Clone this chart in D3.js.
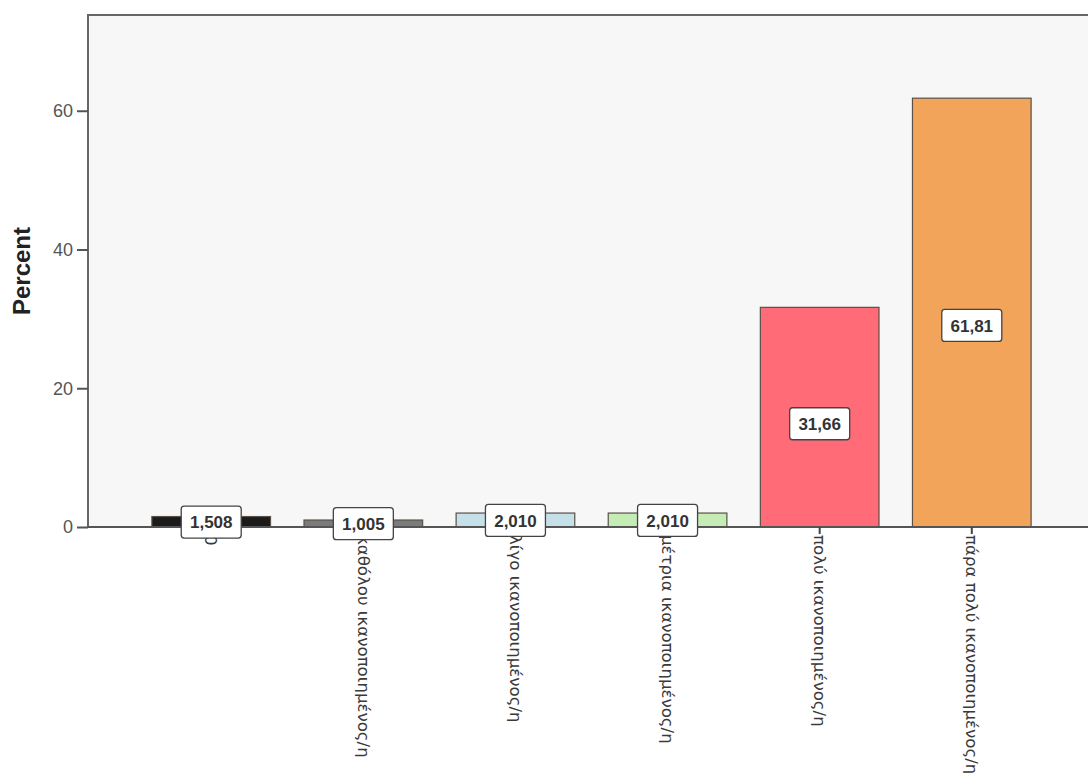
<!DOCTYPE html>
<html>
<head>
<meta charset="utf-8">
<script src="https://cdn.jsdelivr.net/npm/d3@7"></script>
<style>
  html, body { margin: 0; padding: 0; background: #ffffff; }
  svg { display: block; }
</style>
</head>
<body>
<svg id="chart" width="1088" height="782"></svg>
<script>
// Satisfaction levels (percent of respondents)
const categories = [
  "0",
  "καθόλου ικανοποιημένος/η",
  "λίγο ικανοποιημένος/η",
  "μέτρια ικανοποιημένος/η",
  "πολύ ικανοποιημένος/η",
  "πάρα πολύ ικανοποιημένος/η"
];
const percents = [1.508, 1.005, 2.010, 2.010, 31.66, 61.81];
const valueLabels = ["1,508", "1,005", "2,010", "2,010", "31,66", "61,81"];
const barColors = ["#1b1b1b", "#7b7b7b", "#c6e0ea", "#c6ecb6", "#ff6b77", "#f2a45b"];
const yTicks = [0, 20, 40, 60];

const svg = d3.select("#chart");
const W = 1088, H = 782;
const plot = { left: 88, top: 15, right: 1095, bottom: 527 };

const x = d3.scaleBand()
  .domain(categories)
  .range([plot.left, plot.right])
  .paddingInner(0.22)
  .paddingOuter(0.42);

const y = d3.scaleLinear()
  .domain([0, 73.8])
  .range([plot.bottom, plot.top]);

// plot background
svg.append("rect")
  .attr("x", plot.left).attr("y", plot.top)
  .attr("width", plot.right - plot.left)
  .attr("height", plot.bottom - plot.top)
  .attr("fill", "#f7f7f7");

// bars
svg.append("g").selectAll("rect")
  .data(categories)
  .join("rect")
  .attr("x", d => x(d))
  .attr("y", (d, i) => y(percents[i]))
  .attr("width", x.bandwidth())
  .attr("height", (d, i) => y(0) - y(percents[i]))
  .attr("fill", (d, i) => barColors[i])
  .attr("stroke", "#5a5048")
  .attr("stroke-width", 1.2);

// frame: top and left border
svg.append("path")
  .attr("d", `M${plot.left},${plot.bottom} V${plot.top} H${plot.right}`)
  .attr("fill", "none")
  .attr("stroke", "#666")
  .attr("stroke-width", 2);

// y axis
const yAxis = svg.append("g")
  .attr("transform", `translate(${plot.left},0)`)
  .call(d3.axisLeft(y).tickValues(yTicks).tickSize(11).tickPadding(4).tickFormat(d3.format("d")));
yAxis.select(".domain").remove();
yAxis.selectAll(".tick line").attr("stroke", "#555").attr("stroke-width", 2);
yAxis.selectAll(".tick text")
  .attr("fill", "#555")
  .style("font-family", "Arial, 'Liberation Sans', sans-serif")
  .style("font-size", "18px");

// x axis
const xAxis = svg.append("g")
  .attr("transform", `translate(0,${plot.bottom})`)
  .call(d3.axisBottom(x).tickSize(7).tickPadding(6).tickSizeOuter(0));
xAxis.select(".domain")
  .attr("d", `M${plot.left},0 H${W}`)
  .attr("stroke", "#555").attr("stroke-width", 2);
xAxis.selectAll(".tick line").attr("stroke", "#444").attr("stroke-width", 2);
xAxis.selectAll(".tick text")
  .attr("fill", "#3a3a3a")
  .style("font-family", "'DejaVu Sans', Verdana, sans-serif")
  .style("font-size", "16.6px")
  .attr("transform", "rotate(90)")
  .attr("text-anchor", "start")
  .attr("dy", "0.35em")
  .attr("x", 8)
  .attr("y", 0);

// y axis title
svg.append("text")
  .attr("transform", `translate(30,${271}) rotate(-90)`)
  .attr("text-anchor", "middle")
  .attr("fill", "#222")
  .style("font-family", "Arial, 'Liberation Sans', sans-serif")
  .style("font-size", "24px")
  .style("font-weight", "bold")
  .text("Percent");

// value labels in boxes
const lbl = svg.append("g").selectAll("g")
  .data(categories)
  .join("g")
  .attr("transform", (d, i) =>
    `translate(${x(d) + x.bandwidth() / 2},${y(percents[i] * 0.47)})`);

lbl.append("rect")
  .attr("x", -30).attr("y", -16)
  .attr("width", 60).attr("height", 32)
  .attr("rx", 3)
  .attr("fill", "#ffffff")
  .attr("stroke", "#444")
  .attr("stroke-width", 1.3);

lbl.append("text")
  .attr("text-anchor", "middle")
  .attr("dy", "0.36em")
  .attr("fill", "#333")
  .style("font-family", "Arial, 'Liberation Sans', sans-serif")
  .style("font-size", "17px")
  .style("font-weight", "bold")
  .text((d, i) => valueLabels[i]);
</script>
</body>
</html>
